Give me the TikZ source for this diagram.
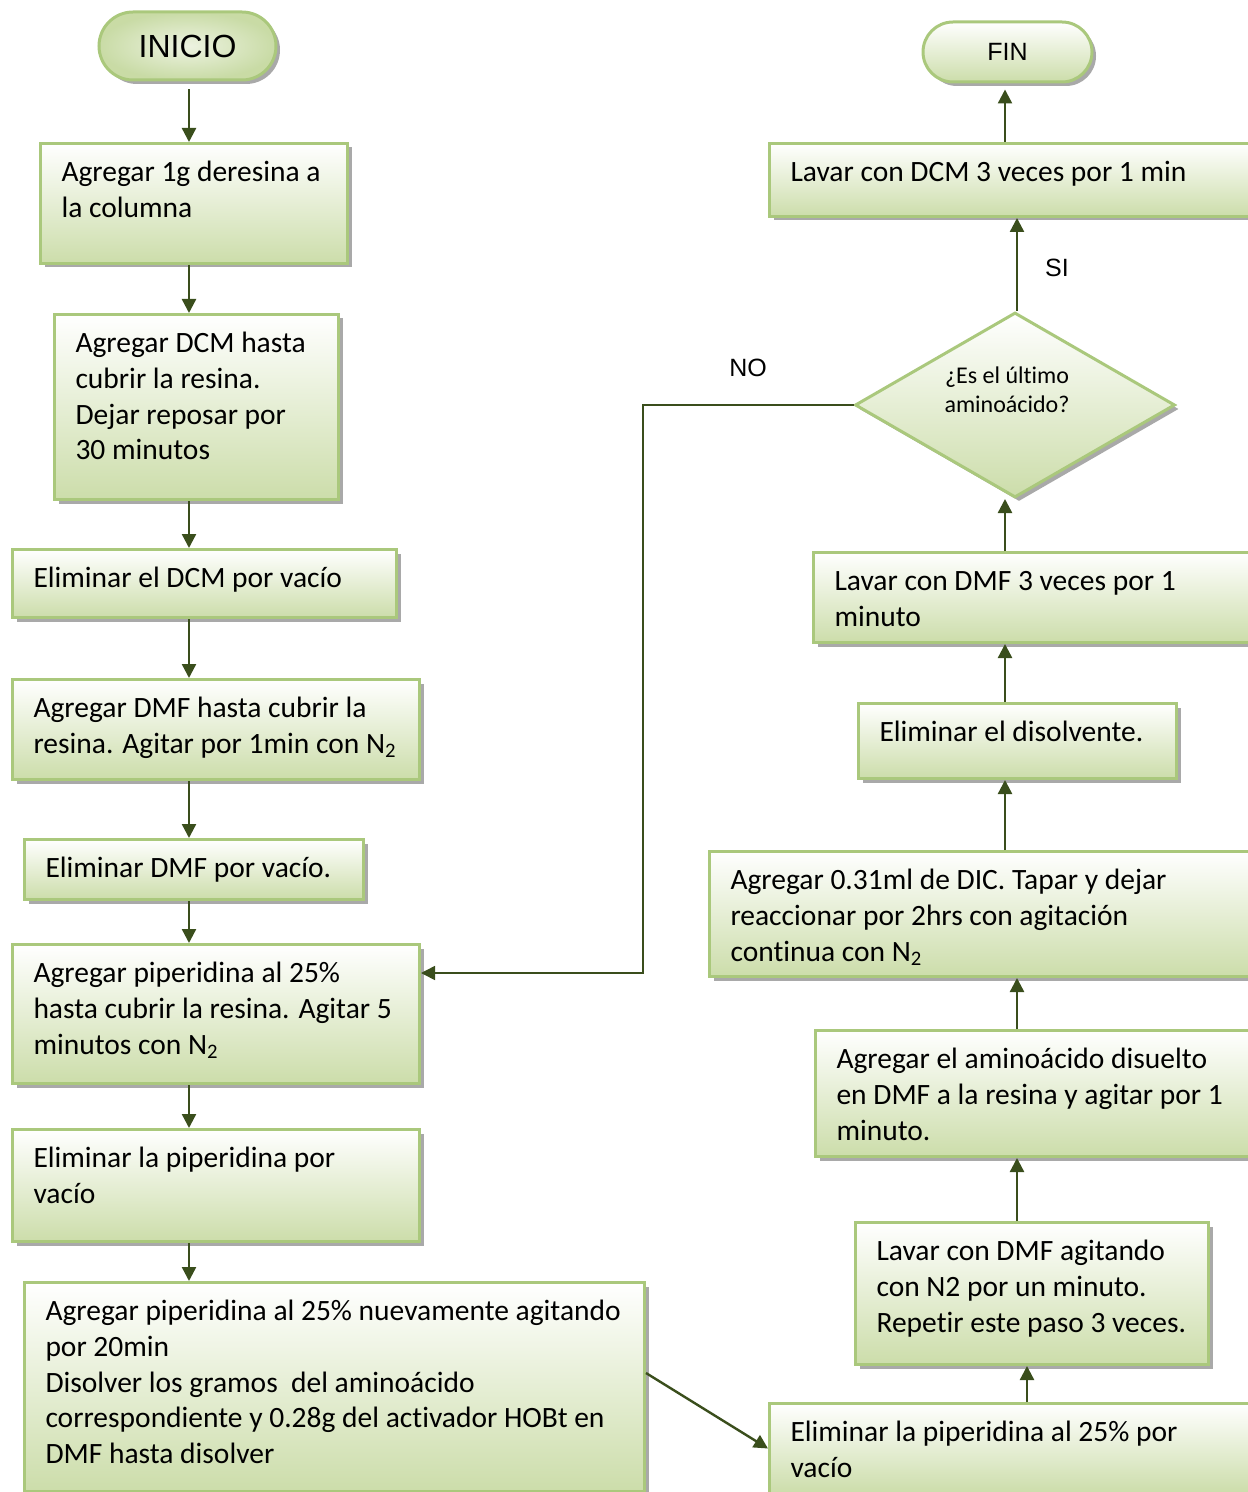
\documentclass[tikz,border=0pt]{standalone}
\usepackage{fontspec}
\setmainfont{Carlito}[Ligatures=NoCommon]
\newfontfamily\arialfont{Liberation Sans}
\usetikzlibrary{arrows.meta,shapes.geometric,shadows,positioning}
\definecolor{boxline}{RGB}{170,200,124}
\definecolor{boxfill}{RGB}{204,221,170}
\definecolor{arrowcol}{RGB}{58,78,28}
\tikzset{
  boxshadow/.style={drop shadow={shadow xshift=2pt,shadow yshift=-2pt,fill=black!45,opacity=.75}},
  stepbox/.style={draw=boxline, line width=1.5pt, top color=white, bottom color=boxfill, boxshadow,
    anchor=north west, inner xsep=10.5pt, inner ysep=0pt, align=flush left, text height=19pt,
    font=\fontsize{14.75pt}{17.9pt}\selectfont},
  terminal/.style={draw=boxline, line width=1.5pt, boxshadow, inner sep=0pt},
  decision/.style={diamond, draw=boxline, line width=1.5pt, top color=white, bottom color=boxfill, boxshadow,
    minimum width=160pt, minimum height=92.5pt, inner sep=0pt, align=flush center,
    font=\fontsize{12pt}{15pt}\selectfont},
  flow/.style={draw=arrowcol, line width=1.2pt, ->},
  tag/.style={font=\arialfont\fontsize{12.5pt}{15pt}\selectfont}
}
\begin{document}
\begin{tikzpicture}[x=0.5pt, y=-0.5pt, >={Triangle[length=7pt,width=7pt]}]
	\useasboundingbox (0,0) rectangle (1247,1492);

	\node[terminal, shading=radial, inner color=boxfill!35!white, outer color=boxfill!90!boxline, minimum width=88.5pt, minimum height=34pt, rounded corners=17pt, font=\arialfont\fontsize{16pt}{18pt}\selectfont] (start) at (187.5,46) {INICIO};
	\node[stepbox, text width=132.5pt, text depth=41pt] (resin) at (39,142) {Agregar 1g deresina a\\la columna};
	\node[stepbox, text width=121pt, text depth=73.5pt] (dcm) at (53,313) {Agregar DCM hasta\\cubrir la resina.\\Dejar reposar por\\30 minutos};
	\node[stepbox, text width=171pt, text depth=15pt] (elimdcm) at (11,548) {Eliminar el DCM por vacío};
	\node[stepbox, text width=182.5pt, text depth=31pt] (dmf) at (11,678) {Agregar DMF hasta cubrir la\\resina. Agitar por 1min con N\textsubscript{2}};
	\node[stepbox, text width=148.5pt, text depth=11pt] (elimdmf) at (23,838) {Eliminar DMF por vacío.};
	\node[stepbox, text width=182.5pt, text depth=50.5pt] (pip) at (11,943) {Agregar piperidina al 25\%\\hasta cubrir la resina. Agitar 5\\minutos con N\textsubscript{2}};
	\node[stepbox, text width=182.5pt, text depth=37pt] (elimpip) at (11,1128) {Eliminar la piperidina por\\vacío};
	\node[stepbox, text width=289pt, text depth=85.5pt] (pipb) at (23,1281) {Agregar piperidina al 25\% nuevamente agitando\\por 20min\\Disolver los gramos~ del aminoácido\\correspondiente y 0.28g del activador HOBt en\\DMF hasta disolver};

	\node[stepbox, text width=239pt, text depth=26pt] (elimpipb) at (768,1402) {Eliminar la piperidina al 25\% por\\vacío};
	\node[stepbox, text width=155.5pt, text depth=52pt] (wash) at (854,1221) {Lavar con DMF agitando\\con N2 por un minuto.\\Repetir este paso 3 veces.};
	\node[stepbox, text width=209pt, text depth=44pt] (amino) at (814,1029) {Agregar el aminoácido disuelto\\en DMF a la resina y agitar por 1\\minuto.};
	\node[stepbox, text width=259pt, text depth=43.5pt] (dic) at (708,850) {Agregar 0.31ml de DIC. Tapar y dejar\\reaccionar por 2hrs con agitación\\continua con N\textsubscript{2}};
	\node[stepbox, text width=138pt, text depth=18.5pt] (elimsolv) at (857,702) {Eliminar el disolvente.};
	\node[stepbox, text width=209pt, text depth=26pt] (washdmf) at (812,551) {Lavar con DMF 3 veces por 1\\minuto};
	\node[decision] (last) at (1015,405) {\makebox[0pt]{\raisebox{-3.5pt}[0pt][0pt]{\shortstack{¿Es el último\\[1pt]aminoácido?}}\hspace{8pt}}};
	\node[stepbox, text width=239pt, text depth=17.5pt] (washdcm) at (768,142) {Lavar con DCM 3 veces por 1 min};
	\node[terminal, top color=white, bottom color=boxfill, minimum width=84.5pt, minimum height=30pt, rounded corners=15pt, font=\arialfont\fontsize{12.5pt}{15pt}\selectfont] (end) at (1007.5,52) {FIN};

	\node[tag] (yes) at (1057,268) {SI};
	\node[tag] (no) at (748,368) {NO};

	\coordinate (colL) at (189,0); \coordinate (colA) at (1027,0); \coordinate (colB) at (1017,0); \coordinate (colC) at (1005,0);
	\coordinate (noturn) at (643,973);

	\draw[flow, shorten <=4pt] (start.south -| colL) -- (resin.north -| colL);
	\draw[flow] (resin.south -| colL) -- (dcm.north -| colL); \draw[flow] (dcm.south -| colL) -- (elimdcm.north -| colL);
	\draw[flow] (elimdcm.south -| colL) -- (dmf.north -| colL); \draw[flow] (dmf.south -| colL) -- (elimdmf.north -| colL);
	\draw[flow] (elimdmf.south -| colL) -- (pip.north -| colL); \draw[flow] (pip.south -| colL) -- (elimpip.north -| colL);
	\draw[flow] (elimpip.south -| colL) -- (pipb.north -| colL);
	\draw[flow] ([yshift=7pt]pipb.east) -- (elimpipb.west);

	\draw[flow] (elimpipb.north -| colA) -- (wash.south -| colA);
	\draw[flow] (wash.north -| colB) -- (amino.south -| colB); \draw[flow] (amino.north -| colB) -- (dic.south -| colB);
	\draw[flow] (dic.north -| colC) -- (elimsolv.south -| colC); \draw[flow] (elimsolv.north -| colC) -- (washdmf.south -| colC);
	\draw[flow] (washdmf.north -| colC) -- (last.south -| colC);
	\draw[flow] (last.north -| colB) -- (washdcm.south -| colB);
	\draw[flow, shorten >=3pt] (washdcm.north -| colC) -- (end.south -| colC);

	\draw[flow, line width=0.8pt] (last.west) -| (noturn) -- (pip.east |- noturn);
\end{tikzpicture}
\end{document}
